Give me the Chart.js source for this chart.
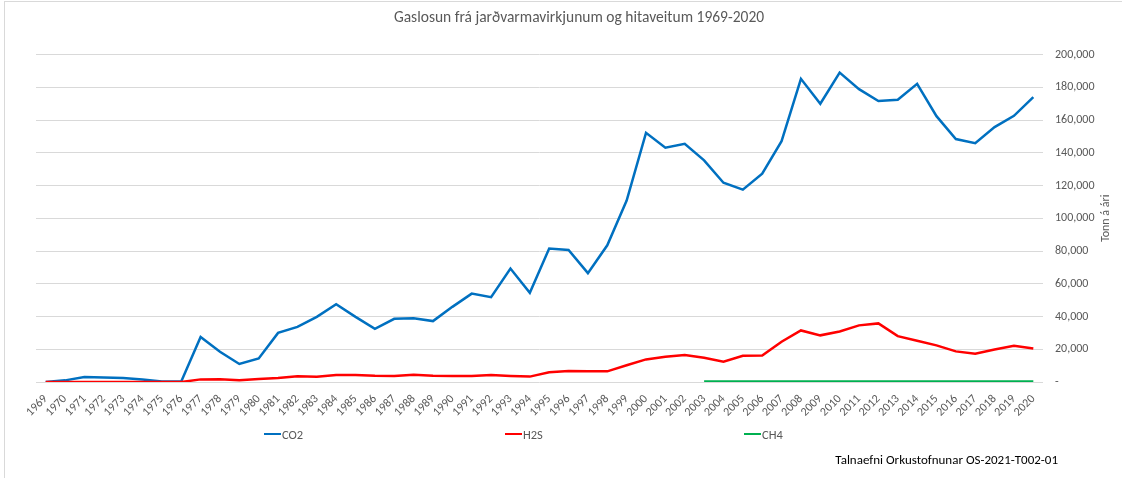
<!DOCTYPE html>
<html lang="is">
<head>
    <meta charset="UTF-8">
    <title>Gaslosun frá jarðvarmavirkjunum og hitaveitum 1969-2020</title>
    <style>
        body {
            margin: 0;
            padding: 0;
            background: #fff;
            font-family: Carlito, Lato, sans-serif;
            overflow: hidden;
        }

        .wrap {
            position: relative;
            width: 1122px;
            height: 478px;
        }

        .frame {
            position: absolute;
            left: 4px;
            top: 1px;
            width: 1200px;
            height: 600px;
            border-left: 1px solid #d9d9d9;
            border-top: 1px solid #d9d9d9;
            pointer-events: none;
        }

        .legend-item {
            position: absolute;
            top: 426px;
            font-size: 12.5px;
            color: #595959;
            display: flex;
            align-items: center;
            height: 16px;
        }

        .legend-item span.swatch {
            display: inline-block;
            width: 17px;
            height: 2.5px;
            margin-right: 1px;
        }

        .footer {
            position: absolute;
            right: 64px;
            top: 452px;
            font-size: 13px;
            color: #000;
        }
    </style>
</head>
<body>
    <div class="wrap">
        <canvas id="gasChart" width="1122" height="478"></canvas>
        <div id="legend"></div>
        <div class="footer">Talnaefni Orkustofnunar OS-2021-T002-01</div>
        <div class="frame"></div>
    </div>

    <script src="https://cdn.jsdelivr.net/npm/chart.js"></script>
    <script>
        // Years 1969-2020
        const years = ['1969', '1970', '1971', '1972', '1973', '1974', '1975', '1976', '1977', '1978',
            '1979', '1980', '1981', '1982', '1983', '1984', '1985', '1986', '1987', '1988',
            '1989', '1990', '1991', '1992', '1993', '1994', '1995', '1996', '1997', '1998',
            '1999', '2000', '2001', '2002', '2003', '2004', '2005', '2006', '2007', '2008',
            '2009', '2010', '2011', '2012', '2013', '2014', '2015', '2016', '2017', '2018',
            '2019', '2020'];

        // Tonn á ári
        const co2 = [0, 1000, 3000, 2700, 2500, 1500, 300, 300, 27500, 18500,
            11000, 14400, 30000, 33700, 39800, 47500, 39800, 32500, 38600, 39000,
            37200, 45900, 54000, 51800, 69300, 54500, 81500, 80700, 66500, 83500,
            110800, 152200, 143100, 145500, 135400, 121700, 117500, 127300, 147100, 185200,
            170000, 189000, 178900, 171600, 172400, 182100, 162400, 148400, 145900, 155700,
            162600, 174000];

        const h2s = [0, 0, 0, 0, 0, 0, 0, 0, 1600, 1700,
            1000, 1800, 2400, 3500, 3200, 4300, 4300, 3800, 3700, 4500,
            3800, 3700, 3700, 4300, 3700, 3300, 5900, 6700, 6500, 6500,
            10200, 13800, 15400, 16500, 14800, 12400, 16000, 16200, 24600, 31500,
            28500, 30900, 34600, 35800, 28000, 25200, 22400, 18700, 17300, 19900,
            22100, 20500];

        const ch4 = [null, null, null, null, null, null, null, null, null, null,
            null, null, null, null, null, null, null, null, null, null,
            null, null, null, null, null, null, null, null, null, null,
            null, null, null, null, 300, 300, 300, 300, 300, 300,
            300, 300, 300, 300, 300, 300, 300, 300, 300, 300,
            300, 300];

        const seriesNames = ['CO2', 'H2S', 'CH4'];
        const seriesColors = ['#0070c0', '#ff0000', '#00b050'];
        const yTicks = [0, 20000, 40000, 60000, 80000, 100000, 120000, 140000, 160000, 180000, 200000];

        Chart.defaults.font.family = 'Carlito, Lato, sans-serif';
        Chart.defaults.color = '#595959';

        // rotated axis title on the right side (reads bottom to top)
        const axisTitle = {
            id: 'axisTitle',
            afterDraw(chart) {
                const ctx = chart.ctx;
                const area = chart.chartArea;
                ctx.save();
                ctx.translate(chart.width - 16, (area.top + area.bottom) / 2);
                ctx.rotate(-Math.PI / 2);
                ctx.font = '12px Carlito, Lato, sans-serif';
                ctx.fillStyle = '#595959';
                ctx.textAlign = 'center';
                ctx.textBaseline = 'middle';
                ctx.fillText('Tonn á ári', 0, 0);
                ctx.restore();
            }
        };

        const ctx = document.getElementById('gasChart').getContext('2d');
        const gasChart = new Chart(ctx, {
            type: 'line',
            data: {
                labels: years,
                datasets: [co2, h2s, ch4].map((d, i) => ({
                    label: seriesNames[i],
                    data: d,
                    borderColor: seriesColors[i],
                    backgroundColor: seriesColors[i],
                    borderWidth: 2.5,
                    pointRadius: 0,
                    tension: 0,
                    spanGaps: false,
                    order: 3 - i
                }))
            },
            options: {
                responsive: false,
                animation: false,
                layout: {
                    padding: { left: 36, right: 0, top: 0, bottom: 0 }
                },
                plugins: {
                    legend: { display: false },
                    tooltip: { enabled: false },
                    title: {
                        display: true,
                        text: 'Gaslosun frá jarðvarmavirkjunum og hitaveitum 1969-2020',
                        color: '#595959',
                        font: { size: 15.5, weight: 'normal' },
                        padding: { top: 9, bottom: 27 }
                    }
                },
                scales: {
                    x: {
                        offset: true,
                        grid: { display: false },
                        border: { display: false },
                        ticks: {
                            autoSkip: false,
                            maxRotation: 45,
                            minRotation: 45,
                            padding: 2,
                            font: { size: 12 },
                            color: '#595959'
                        },
                        afterFit(scale) {
                            scale.height = 96;
                        }
                    },
                    y: {
                        position: 'right',
                        min: 0,
                        max: 200000,
                        afterBuildTicks(scale) {
                            scale.ticks = yTicks.map(v => ({ value: v }));
                        },
                        grid: {
                            color: '#d9d9d9',
                            lineWidth: 1,
                            drawTicks: false
                        },
                        border: { display: false },
                        ticks: {
                            padding: 12,
                            font: { size: 12 },
                            color: '#595959',
                            callback: v => v === 0 ? '-' : v.toLocaleString('en-US')
                        },
                        afterFit(scale) {
                            scale.width = 79;
                        }
                    }
                }
            },
            plugins: [axisTitle]
        });

        // legend built from the series
        const legendLeft = [264, 505, 744];
        const legendBox = document.getElementById('legend');
        seriesNames.forEach((name, i) => {
            const item = document.createElement('div');
            item.className = 'legend-item';
            item.style.left = legendLeft[i] + 'px';
            item.innerHTML = '<span class="swatch" style="background:' + seriesColors[i] + '"></span>' + name;
            legendBox.appendChild(item);
        });
    </script>
</body>
</html>
